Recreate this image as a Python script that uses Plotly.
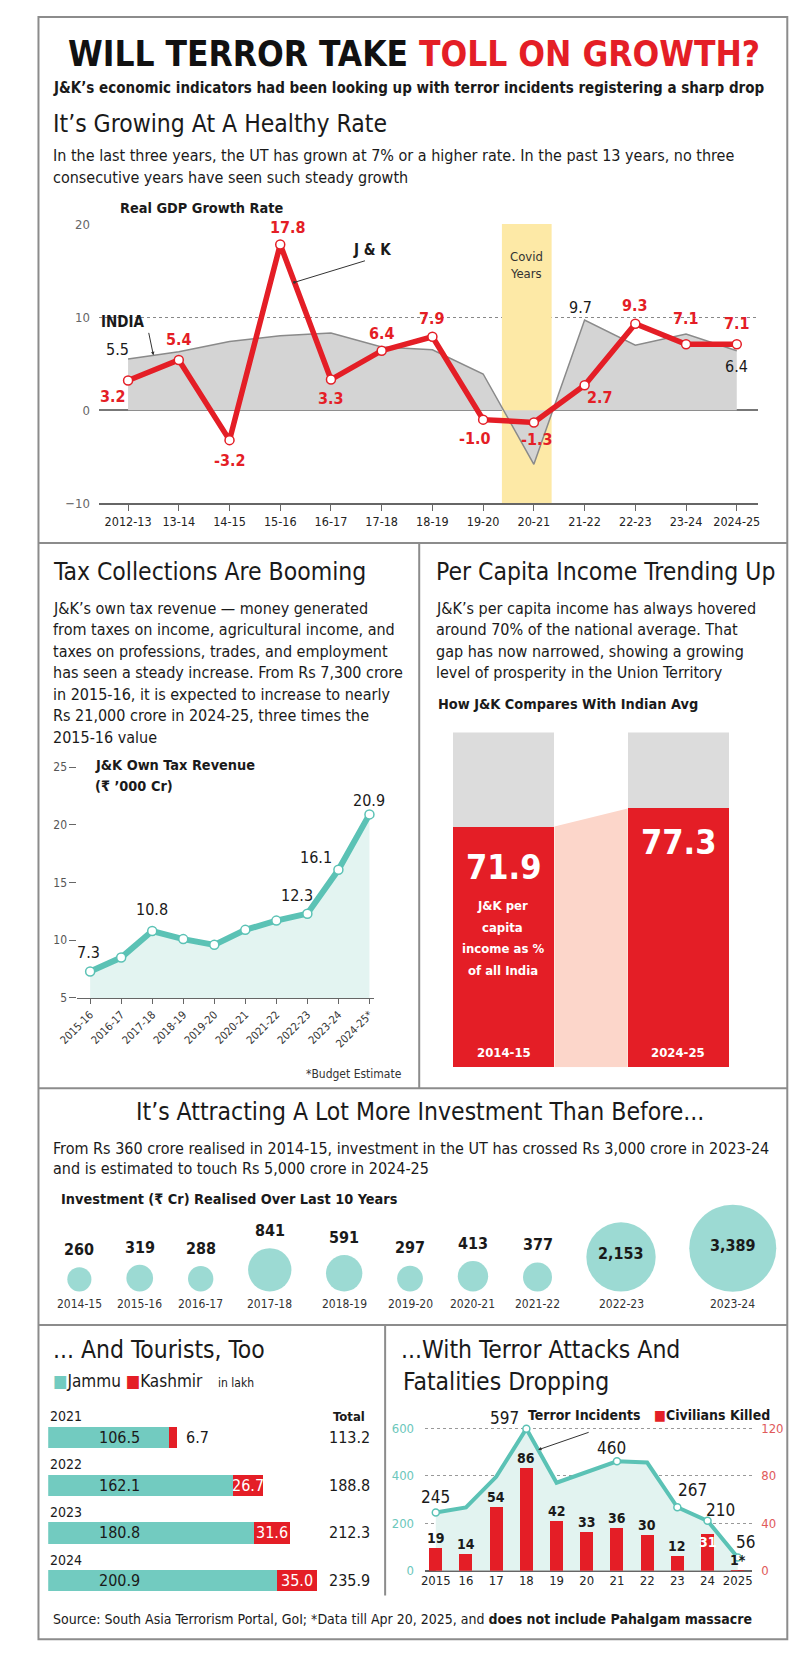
import plotly.graph_objects as go

W, H = 800, 1661
RED = "#e41e26"
TEAL = "#5bc2b5"
TEAL_B = "#72cbc0"
DARK = "#1a1a1a"
NARROW = "Liberation Sans Narrow, DejaVu Sans Condensed, Roboto Condensed, Arial Narrow, sans-serif"

# ---------------- DATA ----------------
gdp_years = ["2012-13", "13-14", "14-15", "15-16", "16-17", "17-18", "18-19",
             "19-20", "20-21", "21-22", "22-23", "23-24", "2024-25"]
jk_gdp = [3.2, 5.4, -3.2, 17.8, 3.3, 6.4, 7.9, -1.0, -1.3, 2.7, 9.3, 7.1, 7.1]
india_gdp = [5.5, 6.3, 7.4, 8.0, 8.3, 6.8, 6.5, 3.9, -5.8, 9.7, 7.0, 8.2, 6.4]
india_labeled = [True, False, False, False, False, False, False, False, False, True, False, False, True]

tax_years = ["2015-16", "2016-17", "2017-18", "2018-19", "2019-20", "2020-21",
             "2021-22", "2022-23", "2023-24", "2024-25*"]
tax_rev = [7.3, 8.5, 10.8, 10.1, 9.6, 10.9, 11.7, 12.3, 16.1, 20.9]
tax_labeled = [True, False, True, False, False, False, False, True, True, True]

pc_years = ["2014-15", "2024-25"]
pc_share = [71.9, 77.3]

inv_years = ["2014-15", "2015-16", "2016-17", "2017-18", "2018-19", "2019-20",
             "2020-21", "2021-22", "2022-23", "2023-24"]
inv_vals = [260, 319, 288, 841, 591, 297, 413, 377, 2153, 3389]

tour_years = ["2021", "2022", "2023", "2024"]
jammu = [106.5, 162.1, 180.8, 200.9]
kashmir = [6.7, 26.7, 31.6, 35.0]
tour_total = [113.2, 188.8, 212.3, 235.9]

terror_years = ["2015", "16", "17", "18", "19", "20", "21", "22", "23", "24", "2025"]
incidents = [245, 266, 395, 597, 370, 415, 460, 455, 267, 210, 56]
inc_labeled = [True, False, False, True, False, False, True, False, True, True, True]
civilians = [19, 14, 54, 86, 42, 33, 36, 30, 12, 31, 1]
civ_text = ["19", "14", "54", "86", "42", "33", "36", "30", "12", "31", "1*"]

# ---------------- STYLE (label offsets, px) ----------------
jk_shift = [(-15, -16), (0, 21), (0, -20), (8, 17), (0, -19), (0, 17), (0, 18),
            (-9, -19), (3, -17), (15, -12), (0, 18), (0, 26), (0, 21)]
india_shift = {0: (-11, 10), 9: (-4, 12), 12: (0, -16)}
tax_shift = {0: (-2, 19), 2: (0, 22), 7: (-10, 18), 8: (-22, 12), 9: (0, 14)}
inc_shift = {0: (0, 15), 3: (-22, 11), 6: (-5, 13), 8: (15, 17), 9: (13, 11), 10: (8, 15)}
pc_label_drop = [12.0, 10.0]


def px(x):
    return x / W


def py(y):
    return 1 - y / H


ann = []


def note(x, y, text, size=16, color=DARK, xanchor="left", yanchor="middle",
         xref="paper", yref="paper", xshift=0, yshift=0, family=NARROW):
    if xref == "paper":
        x = px(x)
    if yref == "paper":
        y = py(y)
    ann.append(dict(x=x, y=y, xref=xref, yref=yref, text=text, showarrow=False,
                    xanchor=xanchor, yanchor=yanchor, xshift=xshift, yshift=yshift,
                    font=dict(family=family, size=size, color=color)))


def pointer(x, y, xref, yref, ax, ay, head=2):
    ann.append(dict(x=x, y=y, xref=xref, yref=yref, text="", showarrow=True, ax=ax, ay=ay,
                    arrowhead=head, arrowsize=0.7, arrowwidth=1, arrowcolor="#333"))


fig = go.Figure()

# ---------------- GDP chart ----------------
gi = list(range(len(gdp_years)))
fig.add_trace(go.Scatter(x=gi, y=india_gdp, mode="lines", line=dict(color="#8a8a8a", width=1.5),
                         fill="tozeroy", fillcolor="#d4d4d4", xaxis="x", yaxis="y"))
fig.add_trace(go.Scatter(x=gi, y=jk_gdp, mode="lines+markers", line=dict(color=RED, width=5.5),
                         marker=dict(size=9, color="white", line=dict(color=RED, width=1.5)),
                         cliponaxis=False, xaxis="x", yaxis="y"))
for i, v in enumerate(jk_gdp):
    dx, dy = jk_shift[i]
    note(i, v, "<b>%.1f</b>" % v, size=16, color=RED, xanchor="center", xref="x", yref="y",
         xshift=dx, yshift=dy)
for i, v in enumerate(india_gdp):
    if india_labeled[i]:
        dx, dy = india_shift[i]
        note(i, v, "%.1f" % v, size=16, color=DARK, xanchor="center", xref="x", yref="y",
             xshift=dx, yshift=dy)

t_ind = 0.5
pointer(t_ind, india_gdp[0] + t_ind * (india_gdp[1] - india_gdp[0]), "x", "y", -5, -24)
note(107, 318, "<b>INDIA</b>", size=15, xanchor="center")
t_jk = 0.28
pointer(3 + t_jk, jk_gdp[3] + t_jk * (jk_gdp[4] - jk_gdp[3]), "x", "y", 72, -22, head=6)
note(363, 245, "<b>J &amp; K</b>", size=15, xanchor="center")
note(521, 252, "Covid", size=13, color="#333", xanchor="center")
note(521, 269, "Years", size=13, color="#333", xanchor="center")

# ---------------- Tax chart ----------------
ti = list(range(len(tax_years)))
fig.add_trace(go.Scatter(x=ti, y=tax_rev, mode="lines+markers", line=dict(color=TEAL, width=6),
                         marker=dict(size=9, color="white", line=dict(color=TEAL, width=1.5)),
                         fill="tozeroy", fillcolor="#e3f4f1", cliponaxis=False,
                         xaxis="x2", yaxis="y2"))
for i, v in enumerate(tax_rev):
    if tax_labeled[i]:
        dx, dy = tax_shift[i]
        note(i, v, "%.1f" % v, size=16, xanchor="center", xref="x2", yref="y2",
             xshift=dx, yshift=dy)

# ---------------- Per capita bars ----------------
bw = 0.58
fig.add_trace(go.Scatter(x=[bw / 2, 1 - bw / 2], y=pc_share, mode="lines", line=dict(width=0),
                         fill="tozeroy", fillcolor="#fcd6ca", xaxis="x3", yaxis="y3"))
fig.add_trace(go.Bar(x=[0, 1], y=pc_share, width=bw, marker=dict(color=RED, line_width=0),
                     xaxis="x3", yaxis="y3"))
fig.add_trace(go.Bar(x=[0, 1], y=[100 - v for v in pc_share], width=bw,
                     marker=dict(color="#dcdcdc", line_width=0), xaxis="x3", yaxis="y3"))
for i, v in enumerate(pc_share):
    note(i, v - pc_label_drop[i], "<b>%.1f</b>" % v, size=34, color="white", xanchor="center",
         xref="x3", yref="y3")
    note(i, 4.4, "<b>%s</b>" % pc_years[i], size=13, color="white", xanchor="center",
         xref="x3", yref="y3")
for k, line in enumerate(["J&amp;K per", "capita", "income as %", "of all India"]):
    note(497, 907 + 21.7 * k, "<b>%s</b>" % line, size=13, color="white", xanchor="center")

# ---------------- Investment bubbles ----------------
DMAX = 87
vmax = max(inv_vals)
radii = [DMAX / 2 * (v / vmax) ** 0.5 for v in inv_vals]
x_first, x_last, base = 62, 733, 1296
gap = ((x_last - x_first) - (2 * sum(radii) - radii[0] - radii[-1])) / (len(radii) - 1)
bx = [x_first]
for k in range(1, len(radii)):
    bx.append(bx[-1] + radii[k - 1] + radii[k] + gap)
by = [base - r for r in radii]
fig.add_trace(go.Scatter(x=bx, y=by, mode="markers",
                         marker=dict(size=inv_vals, sizemode="area", sizeref=2 * vmax / DMAX ** 2,
                                     color=TEAL_B, line_width=0),
                         xaxis="x4", yaxis="y4"))
for k, v in enumerate(inv_vals):
    lab = "<b>{:,}</b>".format(v)
    if 2 * radii[k] > 60:
        note(bx[k], by[k] - 3, lab, size=16, xanchor="center", xref="x4", yref="y4")
    else:
        note(bx[k], by[k] - radii[k] - 18, lab, size=16, xanchor="center", xref="x4", yref="y4")
    note(bx[k], base + 13, inv_years[k], size=12, color="#333", xanchor="center", xref="x4", yref="y4")

# ---------------- Tourists ----------------
yi = list(range(len(tour_years)))
fig.add_trace(go.Bar(y=yi, x=jammu, orientation="h", width=0.446,
                     marker=dict(color=TEAL_B, line_width=0), xaxis="x5", yaxis="y5"))
fig.add_trace(go.Bar(y=yi, x=kashmir, orientation="h", width=0.446,
                     marker=dict(color=RED, line_width=0), xaxis="x5", yaxis="y5"))
note(339, 0, "<b>Total</b>", size=13, xanchor="center", yref="y5", yshift=21)
for i in yi:
    note(0, i, tour_years[i], size=14, xref="x5", yref="y5", yshift=21)
    note(42.8, i, "%.1f" % jammu[i], size=16, xref="x5", yref="y5")
    if kashmir[i] * 1.169 < 20:
        note(tour_total[i] + 6, i, "%.1f" % kashmir[i], size=16, xref="x5", yref="y5")
    else:
        note(jammu[i] + kashmir[i] / 2, i, "%.1f" % kashmir[i], size=16, color="white",
             xanchor="center", xref="x5", yref="y5")
    note(339, i, "%.1f" % tour_total[i], size=16, xanchor="center", yref="y5")

# ---------------- Terror ----------------
xi = list(range(len(terror_years)))
fig.add_trace(go.Scatter(x=xi, y=incidents, mode="lines", line=dict(color=TEAL, width=4),
                         fill="tozeroy", fillcolor="#e2f3f0", xaxis="x6", yaxis="y6"))
fig.add_trace(go.Scatter(x=[i for i in xi if inc_labeled[i]],
                         y=[incidents[i] for i in xi if inc_labeled[i]], mode="markers",
                         marker=dict(size=7, color="white", line=dict(color=TEAL, width=1.5)),
                         cliponaxis=False, xaxis="x6", yaxis="y6"))
fig.add_trace(go.Bar(x=xi, y=civilians, width=0.43, marker=dict(color=RED, line_width=0),
                     xaxis="x6", yaxis="y7"))
for i, v in enumerate(incidents):
    if inc_labeled[i]:
        dx, dy = inc_shift[i]
        note(i, v, str(v), size=17, xanchor="center", xref="x6", yref="y6", xshift=dx, yshift=dy)
for i, c in enumerate(civilians):
    if civ_text[i] == "31":
        note(i, c, "<b>%s</b>" % civ_text[i], size=14, color="white", xanchor="center",
             xref="x6", yref="y7", yshift=-8)
    else:
        note(i, c, "<b>%s</b>" % civ_text[i], size=14, xanchor="center", xref="x6", yref="y7",
             yshift=10)
t_ti = 0.39
pointer(3 + t_ti, incidents[3] + t_ti * (incidents[4] - incidents[3]), "x6", "y6", 52, -18)
note(580, 1421, "<b>Terror Incidents</b>", size=14, xanchor="center")
note(650, 1421, "<span style='color:%s'>■</span><b>Civilians Killed</b>" % RED, size=14)

# ---------------- Headline texts ----------------
note(406, 47, "<b>WILL TERROR TAKE <span style='color:%s'>TOLL ON GROWTH?</span></b>" % RED,
     size=35, color="#111", xanchor="center")
note(33, 82, "<b>J&amp;K’s economic indicators had been looking up with terror incidents registering a sharp drop</b>",
     size=15)
note(33, 118, "It’s Growing At A Healthy Rate", size=24.5)
note(33, 150, "In the last three years, the UT has grown at 7% or a higher rate. In the past 13 years, no three", size=16)
note(33, 172, "consecutive years have seen such steady growth", size=16)
note(102, 203, "<b>Real GDP Growth Rate</b>", size=14.4)

note(33, 570, "Tax Collections Are Booming", size=24.5)
tax_para = ["J&amp;K’s own tax revenue — money generated",
            "from taxes on income, agricultural income, and",
            "taxes on professions, trades, and employment",
            "has seen a steady increase. From Rs 7,300 crore",
            "in 2015-16, it is expected to increase to nearly",
            "Rs 21,000 crore in 2024-25, three times the",
            "2015-16 value"]
for k, line in enumerate(tax_para):
    note(33, 607 + 21.65 * k, line, size=16)
note(76, 765, "<b>J&amp;K Own Tax Revenue</b>", size=14.4)
note(76, 786, "<b>(₹ ’000 Cr)</b>", size=14.4)
note(344, 1077, "*Budget Estimate", size=12, color="#333", xanchor="center")

note(426, 570, "Per Capita Income Trending Up", size=24.5)
pc_para = ["J&amp;K’s per capita income has always hovered",
           "around 70% of the national average. That",
           "gap has now narrowed, showing a growing",
           "level of prosperity in the Union Territory"]
for k, line in enumerate(pc_para):
    note(426, 607 + 21.65 * k, line, size=16)
note(428, 703, "<b>How J&amp;K Compares With Indian Avg</b>", size=14.4)

note(412, 1115, "It’s Attracting A Lot More Investment Than Before...", size=24.5, xanchor="center")
note(33, 1152, "From Rs 360 crore realised in 2014-15, investment in the UT has crossed Rs 3,000 crore in 2023-24", size=16)
note(33, 1172, "and is estimated to touch Rs 5,000 crore in 2024-25", size=16)
note(41, 1203, "<b>Investment (₹ Cr) Realised Over Last 10 Years</b>", size=14.4)

note(33, 1355, "... And Tourists, Too", size=24.5)
note(33, 1387, "<span style='color:%s'>■</span>Jammu <span style='color:%s'>■</span>Kashmir" % (TEAL_B, RED), size=17)
note(202, 1389, "in lakh", size=12)

note(390, 1355, "...With Terror Attacks And", size=24.5)
note(392, 1387, "Fatalities Dropping", size=24.5)

note(33, 1627, "Source: South Asia Terrorism Portal, GoI; *Data till Apr 20, 2025, and <b>does not include Pahalgam massacre</b>", size=14)

# ---------------- frames ----------------
LC = "#8c8c8c"


def hline(y, x0=20, x1=789):
    return dict(type="line", xref="paper", yref="paper", x0=px(x0), x1=px(x1), y0=py(y), y1=py(y),
                line=dict(color=LC, width=2))


def vline(x, y0, y1):
    return dict(type="line", xref="paper", yref="paper", x0=px(x), x1=px(x), y0=py(y0), y1=py(y1),
                line=dict(color=LC, width=2))


shapes = [
    dict(type="rect", xref="x", yref="y", x0=7.37, x1=8.35, y0=-10, y1=20,
         fillcolor="#fde9a6", line_width=0, layer="between"),
    dict(type="rect", xref="paper", yref="paper", x0=px(20), x1=px(789), y0=py(1647), y1=py(10),
         line=dict(color=LC, width=2)),
    hline(541), vline(411, 541, 1091), hline(1091), hline(1330), vline(376, 1330, 1603),
]

tickf = dict(family=NARROW, size=12, color="#555")
hidden = dict(visible=False, fixedrange=True)
inc_top = 640
inc_px = 144 / 600
fig.update_layout(
    width=W, height=H, margin=dict(l=0, r=0, t=0, b=0), showlegend=False,
    paper_bgcolor="white", plot_bgcolor="rgba(0,0,0,0)", barmode="stack",
    font=dict(family=NARROW),
    xaxis=dict(domain=[px(82), px(759)], range=[-0.576, 12.42], tickvals=gi, ticktext=gdp_years,
               ticks="outside", ticklen=6, tickcolor="#666", showline=True, linecolor="#666",
               linewidth=1.5, showgrid=False, zeroline=False, anchor="y",
               tickfont=dict(family=NARROW, size=12.5, color="#222")),
    yaxis=dict(domain=[py(501), py(219)], range=[-10, 20], tickvals=[-10, 0, 10, 20],
               showgrid=True, griddash="dot", gridcolor="#888", gridwidth=1, zeroline=True,
               zerolinecolor="#777", zerolinewidth=1.5, tickfont=dict(family=NARROW, size=13, color="#666"),
               ticklabelstandoff=8, anchor="x"),
    xaxis2=dict(domain=[px(60), px(365)], range=[-0.41, 9.16], tickvals=ti, ticktext=tax_years,
                tickangle=-45, ticks="outside", ticklen=5, tickcolor="#666", showline=True,
                linecolor="#666", linewidth=1, showgrid=False, zeroline=False, anchor="y2",
                tickfont=dict(family=NARROW, size=11, color="#333")),
    yaxis2=dict(domain=[py(1000), py(767)], range=[5, 25], tickvals=[5, 10, 15, 20, 25],
                ticks="outside", ticklen=7, tickcolor="#666", showgrid=False, zeroline=False,
                showline=False, tickfont=tickf, anchor="x2"),
    xaxis3=dict(domain=[px(408.5), px(766.5)], range=[-0.5, 1.5], anchor="y3", **hidden),
    yaxis3=dict(domain=[py(1070), py(732)], range=[0, 100], anchor="x3", **hidden),
    xaxis4=dict(domain=[0, 1], range=[0, W], anchor="y4", **hidden),
    yaxis4=dict(domain=[0, 1], range=[H, 0], anchor="x4", **hidden),
    xaxis5=dict(domain=[px(30), px(30 + 250 * 1.169)], range=[0, 250], anchor="y5", **hidden),
    yaxis5=dict(domain=[py(1612.1), py(1419.4)], range=[3.5, -0.5], anchor="x5", **hidden),
    xaxis6=dict(domain=[px(417), px(753)], range=[-0.355, 10.48], tickvals=xi, ticktext=terror_years,
                ticks="", showline=False, showgrid=False, zeroline=False, anchor="y6",
                tickfont=dict(family=NARROW, size=13, color="#222")),
    yaxis6=dict(domain=[py(1578), py(1578 - inc_top * inc_px)], range=[0, inc_top],
                tickvals=[0, 200, 400, 600], showgrid=True, griddash="dot", gridcolor="#999",
                zeroline=True, zerolinecolor="#666", zerolinewidth=1.5, anchor="x6",
                ticklabelstandoff=10, tickfont=dict(family=NARROW, size=13, color="#6cc7bb")),
    yaxis7=dict(domain=[py(1578), py(1578 - inc_top * inc_px)], range=[0, inc_top / 5],
                overlaying="y6", side="right", tickvals=[0, 40, 80, 120], showgrid=False,
                zeroline=False, anchor="x6", ticklabelstandoff=8,
                tickfont=dict(family=NARROW, size=13, color="#e05a5a")),
    annotations=ann, shapes=shapes,
)

fig.write_html("out.html", config={"displayModeBar": False},
               post_script="document.body.style.margin='0px';document.body.style.overflow='hidden';")
